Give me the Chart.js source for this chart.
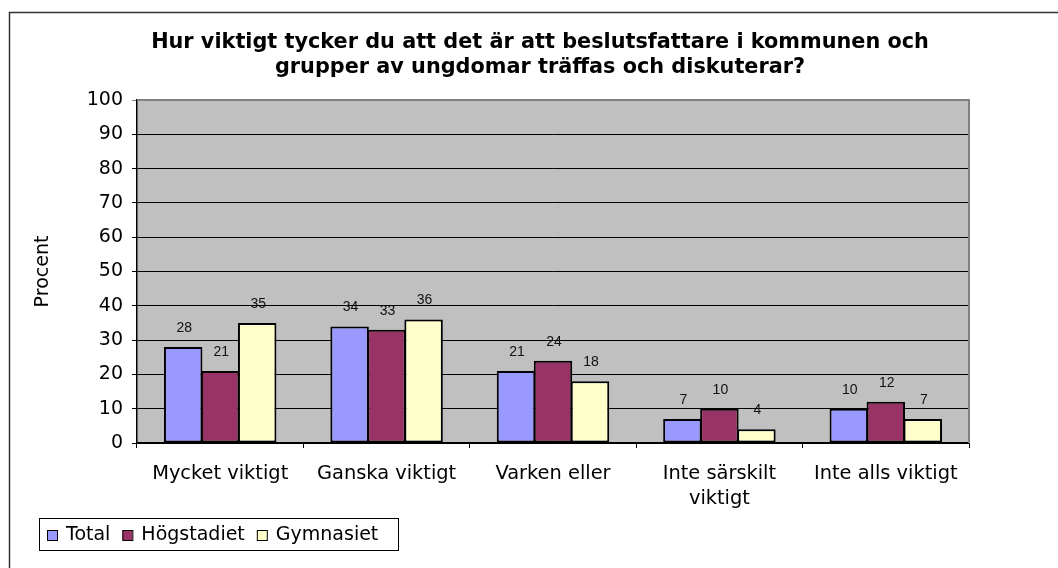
<!DOCTYPE html>
<html>
<head>
<meta charset="utf-8">
<script src="https://cdn.jsdelivr.net/npm/chart.js@4"></script>
<style>
  html, body { margin: 0; padding: 0; background: #fff; }
  #wrap { position: relative; width: 1058px; height: 568px; }
</style>
</head>
<body>
<div id="wrap"><canvas id="chart" width="1058" height="568"></canvas></div>
<script>
const titleLines = ["Hur viktigt tycker du att det är att beslutsfattare i kommunen och", "grupper av ungdomar träffas och diskuterar?"];
const categories = ["Mycket viktigt", "Ganska viktigt", "Varken eller", ["Inte särskilt", "viktigt"], "Inte alls viktigt"];
const seriesNames = ["Total", "Högstadiet", "Gymnasiet"];
const total = [28, 34, 21, 7, 10];
const hogstadiet = [21, 33, 24, 10, 12];
const gymnasiet = [35, 36, 18, 4, 7];
const yTicks = [0, 10, 20, 30, 40, 50, 60, 70, 80, 90, 100];
const colors = ["#9999FF", "#993366", "#FFFFCC"];

const FONT = "'DejaVu Sans', Verdana, sans-serif";

// plot background, plot border, outer frame
const backdrop = {
  id: "backdrop",
  beforeDraw(chart) {
    const { ctx, chartArea: a } = chart;
    ctx.save();
    ctx.fillStyle = "#fff";
    ctx.fillRect(0, 0, chart.width, chart.height);
    ctx.fillStyle = "#C0C0C0";
    ctx.fillRect(a.left, a.top, a.right - a.left, a.bottom - a.top);
    // frame (cropped on right/bottom)
    ctx.strokeStyle = "#333";
    ctx.lineWidth = 1.5;
    ctx.beginPath();
    ctx.moveTo(9.5, chart.height);
    ctx.lineTo(9.5, 12.5);
    ctx.lineTo(chart.width, 12.5);
    ctx.stroke();
    ctx.restore();
  },
  afterDraw(chart) {
    const { ctx, chartArea: a } = chart;
    ctx.save();
    ctx.strokeStyle = "#808080";
    ctx.lineWidth = 2;
    ctx.beginPath();
    ctx.moveTo(a.left, a.top);
    ctx.lineTo(a.right, a.top);
    ctx.lineTo(a.right, a.bottom);
    ctx.stroke();

    // title
    ctx.fillStyle = "#000";
    ctx.font = "bold 20.8px " + FONT;
    ctx.textAlign = "center";
    ctx.textBaseline = "middle";
    titleLines.forEach((t, i) => ctx.fillText(t, 540, 43 + i * 25));

    // legend box
    ctx.font = "19px " + FONT;
    ctx.strokeStyle = "#000";
    ctx.lineWidth = 1;
    ctx.strokeRect(39.5, 518.5, 359, 32);
    let x = 47;
    chart.data.datasets.forEach(ds => {
      ctx.fillStyle = ds.backgroundColor;
      ctx.fillRect(x, 530, 10, 10);
      ctx.strokeRect(x + 0.5, 530.5, 10, 10);
      ctx.fillStyle = "#000";
      ctx.textAlign = "left";
      ctx.fillText(ds.label, x + 19, 535);
      x += 19 + ctx.measureText(ds.label).width + 12;
    });
    ctx.restore();
  }
};

// value labels above bars
const valueLabels = {
  id: "valueLabels",
  afterDatasetsDraw(chart) {
    const { ctx } = chart;
    ctx.save();
    ctx.font = "14px 'Liberation Sans', Arial, sans-serif";
    ctx.fillStyle = "#111";
    ctx.textAlign = "center";
    ctx.textBaseline = "middle";
    chart.data.datasets.forEach((ds, i) => {
      chart.getDatasetMeta(i).data.forEach((el, j) => {
        ctx.fillText(String(ds.data[j]), el.x + 1, el.y - 19);
      });
    });
    ctx.restore();
  }
};

const datasets = [total, hogstadiet, gymnasiet].map((d, i) => ({
  label: seriesNames[i],
  data: d,
  backgroundColor: colors[i],
  borderColor: "#000",
  borderWidth: 2,
  borderSkipped: false,
  inflateAmount: 0,
  categoryPercentage: 0.667,
  barPercentage: 1.04
}));

new Chart(document.getElementById("chart"), {
  type: "bar",
  data: { labels: categories, datasets },
  options: {
    responsive: false,
    animation: false,
    events: [],
    layout: { padding: { top: 100, left: 9, right: 89, bottom: 55 } },
    plugins: { legend: { display: false }, title: { display: false }, tooltip: { enabled: false } },
    scales: {
      x: {
        afterFit(s) { s.height = 70; },
        grid: { offset: true, drawOnChartArea: false, drawTicks: true, tickLength: 5, color: "#000" },
        border: { display: true, color: "#000", width: 1.5 },
        ticks: { color: "#000", font: { family: FONT, size: 19.4, lineHeight: 1.3 }, padding: 13, maxRotation: 0, autoSkip: false }
      },
      y: {
        min: 0, max: 100,
        afterFit(s) { s.width = 128; },
        afterBuildTicks(s) { s.ticks = yTicks.map(v => ({ value: v })); },
        grid: {
          color: c => (c.tick && c.tick.value === 100 ? "#808080" : "#000"),
          lineWidth: 1, tickLength: 5
        },
        border: { display: true, color: "#000", width: 1.5 },
        ticks: { color: "#000", font: { family: FONT, size: 19 }, padding: 9 },
        title: { display: true, text: "Procent", color: "#000", font: { family: FONT, size: 19 }, padding: { top: 23, bottom: 0 } }
      }
    }
  },
  plugins: [backdrop, valueLabels]
});
</script>
</body>
</html>
